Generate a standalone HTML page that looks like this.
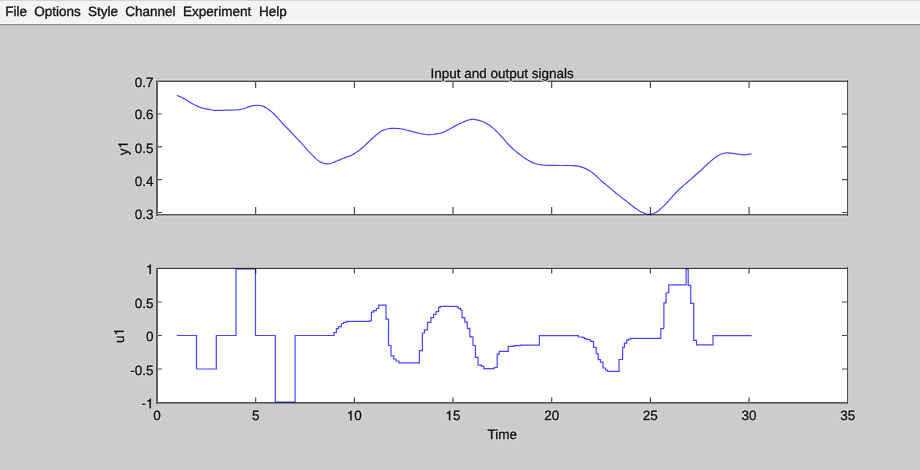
<!DOCTYPE html>
<html><head><meta charset="utf-8"><style>
html,body{margin:0;padding:0;}
body{width:920px;height:470px;overflow:hidden;background:#cccccc;position:relative;}
svg{position:absolute;left:0;top:0;will-change:transform;-webkit-font-smoothing:antialiased;}
</style></head><body>
<svg width="920" height="470" viewBox="0 0 920 470">
<rect x="0" y="0" width="920" height="24" fill="#f4f4f4"/>
<rect x="0" y="0" width="920" height="1" fill="#d4d4d4"/>
<rect x="0" y="1" width="920" height="1" fill="#f1f1f1"/>
<rect x="0" y="23" width="920" height="1" fill="#fafafa"/>
<rect x="0" y="24" width="920" height="1" fill="#8c8c8c"/>
<rect x="0" y="25" width="920" height="1" fill="#bdbdbd"/>
<rect x="0" y="26" width="920" height="1" fill="#c8c8c8"/>
<rect x="156" y="81" width="692" height="134" fill="#ffffff"/>
<rect x="156" y="268" width="692" height="135" fill="#ffffff"/>
<rect x="155" y="80" width="1" height="136" fill="#d9d9d9"/>
<rect x="155" y="267" width="1" height="137" fill="#d9d9d9"/>
<rect x="155" y="79" width="694" height="1" fill="#d4d4d4"/>
<rect x="849" y="80" width="1" height="136" fill="#d2d2d2"/>
<rect x="849" y="267" width="1" height="137" fill="#d2d2d2"/>
<rect x="155" y="216" width="694" height="1" fill="#d3d3d3"/>
<rect x="155" y="404" width="694" height="1" fill="#c8c8c8"/>
<path d="M157.00,81 V88 M157.00,207 V214.5 M157.00,268.5 V273.5 M157.00,397.5 V402.5 M255.68,81 V88 M255.68,207 V214.5 M255.68,268.5 V273.5 M255.68,397.5 V402.5 M354.35,81 V88 M354.35,207 V214.5 M354.35,268.5 V273.5 M354.35,397.5 V402.5 M453.02,81 V88 M453.02,207 V214.5 M453.02,268.5 V273.5 M453.02,397.5 V402.5 M551.70,81 V88 M551.70,207 V214.5 M551.70,268.5 V273.5 M551.70,397.5 V402.5 M650.38,81 V88 M650.38,207 V214.5 M650.38,268.5 V273.5 M650.38,397.5 V402.5 M749.05,81 V88 M749.05,207 V214.5 M749.05,268.5 V273.5 M749.05,397.5 V402.5 M847.73,81 V88 M847.73,207 V214.5 M847.73,268.5 V273.5 M847.73,397.5 V402.5" stroke="#3a3a3a" stroke-width="1.1" fill="none"/>
<path d="M157,114.0 H162 M842,114.0 H847.5 M157,146.9 H162 M842,146.9 H847.5 M157,179.6 H162 M842,179.6 H847.5 M157,212.5 H162 M842,212.5 H847.5 M157,302.0 H162 M842,302.0 H847.5 M157,335.5 H162 M842,335.5 H847.5 M157,369.0 H162 M842,369.0 H847.5" stroke="#4a4a4a" stroke-width="1.2" fill="none"/>
<rect x="156" y="80" width="692" height="1" fill="#9a9a9a"/>
<rect x="156" y="81" width="692" height="1" fill="#4f4f4f"/>
<rect x="156" y="214" width="692" height="1" fill="#585858"/>
<rect x="156" y="215" width="692" height="1" fill="#9a9a9a"/>
<rect x="156" y="81" width="1" height="135" fill="#555555"/>
<rect x="157" y="81" width="1" height="135" fill="#666666"/>
<rect x="847" y="80" width="1" height="136" fill="#505050"/>
<rect x="848" y="80" width="1" height="136" fill="#c4c4c4"/>
<rect x="156" y="267" width="692" height="1" fill="#bbbbbb"/>
<rect x="156" y="268" width="692" height="1" fill="#353535"/>
<rect x="156" y="402" width="692" height="1" fill="#505050"/>
<rect x="156" y="403" width="692" height="1" fill="#8a8a8a"/>
<rect x="156" y="268" width="1" height="136" fill="#555555"/>
<rect x="157" y="268" width="1" height="136" fill="#666666"/>
<rect x="847" y="267" width="1" height="137" fill="#505050"/>
<rect x="848" y="267" width="1" height="137" fill="#c4c4c4"/>
<path d="M176.70,95.40 L177.74,95.77 L179.26,96.31 L180.90,97.00 L182.61,97.85 L184.46,98.85 L186.30,99.90 L188.10,101.02 L189.89,102.19 L191.70,103.30 L193.53,104.30 L195.37,105.24 L197.20,106.10 L199.01,106.89 L200.80,107.61 L202.60,108.20 L204.45,108.62 L206.30,108.92 L208.00,109.20 L209.50,109.50 L210.84,109.78 L212.00,110.00 L212.81,110.14 L213.44,110.23 L214.30,110.30 L215.61,110.35 L217.16,110.38 L218.70,110.40 L220.14,110.41 L221.56,110.42 L223.00,110.40 L224.46,110.34 L225.94,110.27 L227.40,110.20 L228.84,110.16 L230.26,110.14 L231.70,110.10 L233.16,110.06 L234.64,110.00 L236.10,109.90 L237.54,109.74 L238.96,109.54 L240.40,109.30 L241.86,109.02 L243.32,108.70 L244.80,108.30 L246.31,107.76 L247.84,107.13 L249.30,106.60 L250.67,106.22 L251.97,105.93 L253.20,105.70 L254.32,105.51 L255.36,105.37 L256.40,105.30 L257.47,105.30 L258.53,105.37 L259.60,105.50 L260.67,105.67 L261.74,105.89 L262.80,106.20 L263.84,106.61 L264.86,107.12 L265.90,107.70 L266.96,108.37 L268.03,109.12 L269.10,109.90 L270.17,110.69 L271.23,111.50 L272.30,112.40 L273.37,113.40 L274.43,114.49 L275.50,115.60 L276.57,116.74 L277.63,117.92 L278.70,119.10 L279.77,120.27 L280.83,121.43 L281.90,122.60 L282.92,123.73 L283.94,124.87 L285.10,126.10 L286.48,127.49 L287.99,128.98 L289.50,130.50 L290.96,132.04 L292.43,133.62 L293.90,135.20 L295.39,136.76 L296.90,138.32 L298.40,139.90 L299.90,141.51 L301.41,143.15 L302.90,144.80 L304.37,146.47 L305.83,148.14 L307.30,149.80 L308.79,151.43 L310.30,153.04 L311.80,154.60 L313.30,156.11 L314.81,157.57 L316.30,158.90 L317.77,160.11 L319.23,161.19 L320.70,162.10 L322.20,162.81 L323.70,163.35 L325.20,163.70 L326.67,163.84 L328.13,163.80 L329.60,163.60 L331.06,163.23 L332.53,162.70 L334.10,162.10 L335.81,161.43 L337.62,160.68 L339.50,159.90 L341.46,159.07 L343.49,158.21 L345.50,157.40 L347.47,156.73 L349.43,156.10 L351.40,155.30 L353.50,154.13 L355.61,152.79 L357.40,151.60 L358.58,150.80 L359.44,150.16 L360.50,149.30 L361.98,148.05 L363.66,146.58 L365.40,145.00 L367.19,143.29 L369.05,141.47 L370.90,139.70 L372.71,138.03 L374.50,136.42 L376.30,134.90 L378.10,133.43 L379.89,132.05 L381.70,130.90 L383.53,130.07 L385.37,129.47 L387.20,129.00 L389.01,128.64 L390.80,128.42 L392.60,128.30 L394.40,128.28 L396.19,128.36 L398.00,128.50 L399.83,128.70 L401.67,128.97 L403.50,129.30 L405.31,129.72 L407.10,130.21 L408.90,130.70 L410.70,131.17 L412.49,131.64 L414.30,132.10 L416.13,132.55 L417.97,132.99 L419.80,133.40 L421.60,133.81 L423.40,134.21 L425.20,134.50 L427.03,134.67 L428.87,134.74 L430.70,134.70 L432.51,134.52 L434.30,134.23 L436.10,133.90 L437.90,133.60 L439.69,133.27 L441.50,132.80 L443.33,132.12 L445.17,131.29 L447.00,130.40 L448.81,129.44 L450.60,128.41 L452.40,127.40 L454.26,126.37 L456.13,125.36 L457.80,124.50 L459.16,123.90 L460.33,123.46 L461.50,123.00 L462.68,122.45 L463.86,121.87 L465.20,121.30 L466.80,120.67 L468.55,120.04 L470.30,119.60 L472.00,119.43 L473.70,119.44 L475.40,119.60 L477.10,119.91 L478.79,120.36 L480.50,120.90 L482.23,121.50 L483.97,122.18 L485.70,123.00 L487.41,123.97 L489.10,125.07 L490.80,126.30 L492.50,127.65 L494.20,129.13 L495.90,130.70 L497.60,132.38 L499.30,134.16 L501.00,136.00 L502.70,137.94 L504.40,139.96 L506.10,141.90 L507.80,143.74 L509.50,145.51 L511.20,147.20 L512.90,148.81 L514.60,150.34 L516.30,151.80 L518.00,153.20 L519.70,154.53 L521.40,155.80 L523.10,157.00 L524.80,158.13 L526.50,159.20 L528.20,160.24 L529.90,161.23 L531.60,162.10 L533.30,162.84 L535.00,163.48 L536.70,164.00 L538.40,164.39 L540.09,164.67 L541.80,164.90 L543.53,165.08 L545.27,165.21 L547.00,165.30 L548.60,165.36 L550.18,165.38 L552.10,165.40 L554.50,165.44 L557.23,165.47 L560.20,165.50 L563.54,165.48 L567.11,165.45 L570.40,165.50 L573.20,165.64 L575.72,165.85 L578.10,166.20 L580.33,166.69 L582.42,167.30 L584.50,168.10 L586.65,169.12 L588.79,170.32 L590.80,171.60 L592.62,172.93 L594.32,174.34 L596.00,175.80 L597.67,177.34 L599.33,178.94 L601.00,180.50 L602.72,182.00 L604.47,183.46 L606.20,184.90 L607.91,186.31 L609.60,187.69 L611.30,189.10 L613.00,190.57 L614.70,192.06 L616.40,193.50 L618.10,194.84 L619.80,196.12 L621.50,197.40 L623.20,198.69 L624.90,199.99 L626.60,201.30 L628.30,202.66 L630.00,204.05 L631.70,205.40 L633.40,206.72 L635.10,208.00 L636.80,209.20 L638.50,210.30 L640.20,211.32 L641.90,212.20 L643.65,212.94 L645.40,213.56 L647.00,214.00 L648.31,214.29 L649.49,214.42 L650.80,214.30 L652.44,213.87 L654.23,213.19 L655.90,212.40 L657.21,211.64 L658.41,210.77 L659.90,209.50 L661.94,207.63 L664.27,205.37 L666.60,203.00 L668.81,200.58 L671.00,198.06 L673.20,195.60 L675.40,193.25 L677.59,190.97 L679.80,188.80 L682.03,186.79 L684.27,184.90 L686.50,183.00 L688.70,181.07 L690.90,179.14 L693.10,177.20 L695.33,175.26 L697.57,173.30 L699.80,171.30 L702.01,169.21 L704.20,167.07 L706.40,165.00 L708.60,163.01 L710.79,161.10 L713.00,159.30 L715.23,157.58 L717.47,155.99 L719.70,154.70 L721.91,153.81 L724.10,153.23 L726.30,152.90 L728.50,152.84 L730.69,153.03 L732.90,153.30 L735.19,153.64 L737.49,154.05 L739.60,154.40 L741.32,154.67 L742.86,154.87 L744.60,154.90 L747.01,154.61 L749.64,154.14 L751.50,153.80" fill="none" stroke="#4646ff" stroke-width="1.2" stroke-linejoin="round" style="mix-blend-mode:multiply"/>
<path d="M176.8,335.5 H196.5 V369.0 H216.3 V335.5 H236.0 V268.8 H255.5 V335.5 H275.3 V402.2 H295.1 V335.5 H334.0 V332.6 H336.4 V328.6 H338.5 V326.6 H341.4 V323.5 H343.6 V322.4 H346.5 V321.4 H369.5 V320.9 H371.4 V312.2 H373.5 V310.6 H376.3 V308.5 H378.7 V305.1 H386.0 V319.2 H388.5 V345.5 H391.0 V355.8 H393.7 V359.0 H396.0 V361.0 H398.9 V362.8 H419.4 V350.6 H422.4 V333.0 H424.5 V329.8 H427.5 V322.3 H430.9 V317.6 H433.6 V314.4 H436.1 V311.6 H438.6 V307.4 H440.3 V306.3 H456.9 V306.9 H458.4 V308.4 H460.4 V310.0 H462.0 V317.6 H464.1 V318.1 H464.9 V322.2 H466.9 V322.7 H467.3 V328.4 H469.2 V329.1 H469.9 V336.8 H472.2 V337.2 H473.0 V345.5 H475.0 V346.0 H475.4 V357.4 H478.0 V365.2 H481.4 V366.3 H483.8 V368.7 H494.2 V367.5 H497.2 V354.1 H499.2 V351.4 H508.2 V346.7 H509.0 V346.4 H514.2 V345.6 H520.4 V345.2 H539.4 V335.6 H578.4 V337.0 H582.8 V337.6 H584.6 V338.6 H586.0 V339.3 H589.6 V340.0 H590.6 V341.3 H593.5 V347.4 H596.2 V353.6 H598.2 V359.6 H600.5 V362.2 H603.0 V368.0 H605.5 V370.0 H607.5 V371.4 H619.0 V359.5 H622.6 V347.3 H624.4 V343.2 H626.7 V340.2 H628.7 V339.2 H630.5 V338.4 H660.8 V328.6 H663.4 V328.0 H663.9 V302.9 H665.6 V302.3 H666.1 V293.0 H668.2 V292.4 H668.7 V284.9 H686.1 V269.2 H688.2 V285.4 H690.5 V286.0 H690.7 V303.3 H693.7 V340.3 H696.5 V344.8 H713.0 V335.6 H751.7" fill="none" stroke="#4646ff" stroke-width="1.2" stroke-linejoin="miter" style="mix-blend-mode:multiply"/>
<g font-family="Liberation Sans, sans-serif" font-size="13.5" text-rendering="geometricPrecision" fill="none" stroke="#d8d8d8" stroke-width="2.6" stroke-linejoin="round">
<text transform="translate(134.83,86.75) scale(1,1.0)">0.7</text>
<text transform="translate(134.83,119.35) scale(1,1.0)">0.6</text>
<text transform="translate(134.83,152.65) scale(1,1.0)">0.5</text>
<text transform="translate(134.83,185.55) scale(1,1.0)">0.4</text>
<text transform="translate(134.83,218.65) scale(1,1.0)">0.3</text>
<path d="M350 0 L350 709 L276 709 C255 632 222 592 100 576 L100 508 L255 508 L255 0 Z" transform="translate(146.09,274.05) scale(0.01350,-0.01350)" vector-effect="non-scaling-stroke"/>
<text transform="translate(134.83,307.55) scale(1,1.0)">0.5</text>
<text transform="translate(146.09,341.25) scale(1,1.0)">0</text>
<text transform="translate(130.34,374.75) scale(1,1.0)">-0.5</text>
<text transform="translate(141.60,408.25) scale(1,1.0)">-</text>
<path d="M350 0 L350 709 L276 709 C255 632 222 592 100 576 L100 508 L255 508 L255 0 Z" transform="translate(146.09,408.25) scale(0.01350,-0.01350)" vector-effect="non-scaling-stroke"/>
<text transform="translate(153.25,420.30) scale(1,1.0)">0</text>
<text transform="translate(251.92,420.30) scale(1,1.0)">5</text>
<path d="M350 0 L350 709 L276 709 C255 632 222 592 100 576 L100 508 L255 508 L255 0 Z" transform="translate(346.83,420.30) scale(0.01350,-0.01350)" vector-effect="non-scaling-stroke"/>
<text transform="translate(354.34,420.30) scale(1,1.0)">0</text>
<path d="M350 0 L350 709 L276 709 C255 632 222 592 100 576 L100 508 L255 508 L255 0 Z" transform="translate(445.50,420.30) scale(0.01350,-0.01350)" vector-effect="non-scaling-stroke"/>
<text transform="translate(453.01,420.30) scale(1,1.0)">5</text>
<text transform="translate(544.17,420.30) scale(1,1.0)">20</text>
<text transform="translate(642.84,420.30) scale(1,1.0)">25</text>
<text transform="translate(741.51,420.30) scale(1,1.0)">30</text>
<text transform="translate(840.18,420.30) scale(1,1.0)">35</text>
<text x="502.20" y="0" text-anchor="middle" transform="translate(0,438.80) scale(1,1.0)">Time</text>
<text x="502.20" y="0" text-anchor="middle" transform="translate(0,77.70) scale(1,1.0)">Input and output signals</text>
<g transform="translate(127.80,148.00) rotate(-90)">
<text transform="translate(-7.13,0.00) scale(1,1.0)">y</text>
<path d="M350 0 L350 709 L276 709 C255 632 222 592 100 576 L100 508 L255 508 L255 0 Z" transform="translate(-0.38,0.00) scale(0.01350,-0.01350)" vector-effect="non-scaling-stroke"/>
</g>
<g transform="translate(123.60,335.50) rotate(-90)">
<text transform="translate(-7.51,0.00) scale(1,1.0)">u</text>
<path d="M350 0 L350 709 L276 709 C255 632 222 592 100 576 L100 508 L255 508 L255 0 Z" transform="translate(0.00,0.00) scale(0.01350,-0.01350)" vector-effect="non-scaling-stroke"/>
</g>
</g>
<g font-family="Liberation Sans, sans-serif" font-size="13.5" text-rendering="geometricPrecision" fill="#111" stroke="#111" stroke-width="0.35">
<text x="5.30" y="0" text-anchor="start" transform="translate(0,15.70) scale(1,1.0)">File</text>
<text x="34.30" y="0" text-anchor="start" transform="translate(0,15.70) scale(1,1.0)">Options</text>
<text x="88.10" y="0" text-anchor="start" transform="translate(0,15.70) scale(1,1.0)">Style</text>
<text x="125.30" y="0" text-anchor="start" transform="translate(0,15.70) scale(1,1.0)">Channel</text>
<text x="183.00" y="0" text-anchor="start" transform="translate(0,15.70) scale(1,1.0)">Experiment</text>
<text x="258.90" y="0" text-anchor="start" transform="translate(0,15.70) scale(1,1.0)">Help</text>
<text transform="translate(134.83,86.75) scale(1,1.0)">0.7</text>
<text transform="translate(134.83,119.35) scale(1,1.0)">0.6</text>
<text transform="translate(134.83,152.65) scale(1,1.0)">0.5</text>
<text transform="translate(134.83,185.55) scale(1,1.0)">0.4</text>
<text transform="translate(134.83,218.65) scale(1,1.0)">0.3</text>
<path d="M350 0 L350 709 L276 709 C255 632 222 592 100 576 L100 508 L255 508 L255 0 Z" transform="translate(146.09,274.05) scale(0.01350,-0.01350)" vector-effect="non-scaling-stroke"/>
<text transform="translate(134.83,307.55) scale(1,1.0)">0.5</text>
<text transform="translate(146.09,341.25) scale(1,1.0)">0</text>
<text transform="translate(130.34,374.75) scale(1,1.0)">-0.5</text>
<text transform="translate(141.60,408.25) scale(1,1.0)">-</text>
<path d="M350 0 L350 709 L276 709 C255 632 222 592 100 576 L100 508 L255 508 L255 0 Z" transform="translate(146.09,408.25) scale(0.01350,-0.01350)" vector-effect="non-scaling-stroke"/>
<text transform="translate(153.25,420.30) scale(1,1.0)">0</text>
<text transform="translate(251.92,420.30) scale(1,1.0)">5</text>
<path d="M350 0 L350 709 L276 709 C255 632 222 592 100 576 L100 508 L255 508 L255 0 Z" transform="translate(346.83,420.30) scale(0.01350,-0.01350)" vector-effect="non-scaling-stroke"/>
<text transform="translate(354.34,420.30) scale(1,1.0)">0</text>
<path d="M350 0 L350 709 L276 709 C255 632 222 592 100 576 L100 508 L255 508 L255 0 Z" transform="translate(445.50,420.30) scale(0.01350,-0.01350)" vector-effect="non-scaling-stroke"/>
<text transform="translate(453.01,420.30) scale(1,1.0)">5</text>
<text transform="translate(544.17,420.30) scale(1,1.0)">20</text>
<text transform="translate(642.84,420.30) scale(1,1.0)">25</text>
<text transform="translate(741.51,420.30) scale(1,1.0)">30</text>
<text transform="translate(840.18,420.30) scale(1,1.0)">35</text>
<text x="502.20" y="0" text-anchor="middle" transform="translate(0,438.80) scale(1,1.0)">Time</text>
<text x="502.20" y="0" text-anchor="middle" transform="translate(0,77.70) scale(1,1.0)">Input and output signals</text>
<g transform="translate(127.80,148.00) rotate(-90)">
<text transform="translate(-7.13,0.00) scale(1,1.0)">y</text>
<path d="M350 0 L350 709 L276 709 C255 632 222 592 100 576 L100 508 L255 508 L255 0 Z" transform="translate(-0.38,0.00) scale(0.01350,-0.01350)" vector-effect="non-scaling-stroke"/>
</g>
<g transform="translate(123.60,335.50) rotate(-90)">
<text transform="translate(-7.51,0.00) scale(1,1.0)">u</text>
<path d="M350 0 L350 709 L276 709 C255 632 222 592 100 576 L100 508 L255 508 L255 0 Z" transform="translate(0.00,0.00) scale(0.01350,-0.01350)" vector-effect="non-scaling-stroke"/>
</g>
</g></svg></body></html>
